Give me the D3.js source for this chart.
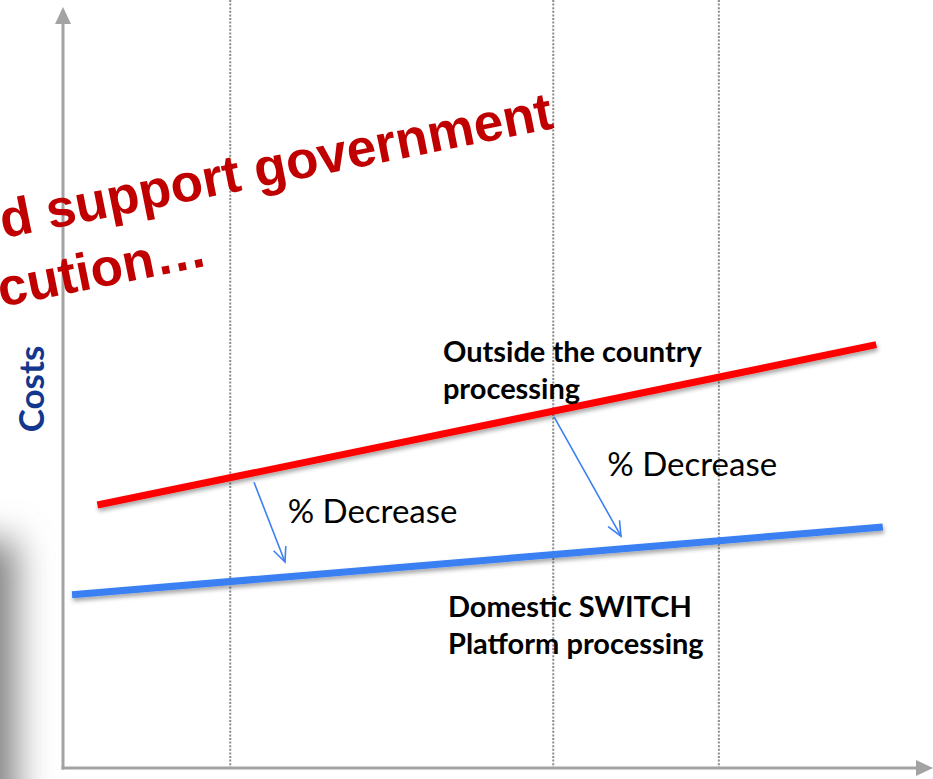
<!DOCTYPE html>
<html>
<head>
<meta charset="utf-8">
<script src="https://cdn.jsdelivr.net/npm/d3@7"></script>
<style>
  html, body { margin: 0; padding: 0; background: #fff; overflow: hidden; }
  svg { display: block; }
</style>
</head>
<body>
<div id="chart"></div>
<script>
// ---- data ----
// x in "period" units, y in cost units (0-100)
const gridX = [1.02, 2.99, 4.0];

const outsideLine = [ {x: 0.21, y: 34.6}, {x: 4.96, y: 55.7} ];   // red
const domesticLine = [ {x: 0.055, y: 22.8}, {x: 5.0, y: 31.7} ];  // blue

const decreaseArrows = [
  {x1: 1.165, y1: 37.6, x2: 1.354, y2: 27.1},
  {x1: 2.995, y1: 46.2, x2: 3.403, y2: 30.5}
];

const decreaseLabels = [
  {x: 1.37, y: 32.3, text: "% Decrease"},
  {x: 3.32, y: 38.4, text: "% Decrease"}
];

const seriesLabels = [
  {x: 2.317, y: 53.4, lines: ["Outside the country", "processing"]},
  {x: 2.348, y: 19.9, lines: ["Domestic SWITCH", "Platform processing"]}
];

const titleLines = ["d support government", "cution\u2026"];
const yAxisTitle = "Costs";

// ---- layout ----
const W = 933, H = 779;
const x = d3.scaleLinear().domain([0, 5.3]).range([63, 932]);
const y = d3.scaleLinear().domain([0, 100]).range([768, 8]);

const svg = d3.select("#chart").append("svg")
  .attr("width", W).attr("height", H);

const defs = svg.append("defs");

// blurred grey shade at the lower left edge
const blur = defs.append("filter").attr("id", "edgeBlur")
  .attr("x", "-100%").attr("y", "-50%").attr("width", "300%").attr("height", "200%");
blur.append("feGaussianBlur").attr("stdDeviation", 18);

// soft drop shadow under the thick lines
const shadow = defs.append("filter").attr("id", "lineShadow")
  .attr("x", "-5%").attr("y", "-50%").attr("width", "110%").attr("height", "200%");
shadow.append("feDropShadow")
  .attr("dx", 1).attr("dy", 3).attr("stdDeviation", 2)
  .attr("flood-color", "#000").attr("flood-opacity", 0.35);

svg.append("rect")
  .attr("x", -90).attr("y", 540).attr("width", 106).attr("height", 420)
  .attr("fill", "#808080")
  .attr("filter", "url(#edgeBlur)");

// dotted vertical guides
svg.append("g").selectAll("line")
  .data(gridX).enter().append("line")
  .attr("x1", d => x(d)).attr("x2", d => x(d))
  .attr("y1", 0).attr("y2", y(0))
  .attr("stroke", "#8c8c8c")
  .attr("stroke-width", 2)
  .attr("stroke-dasharray", "2,1.6");

// axes with arrow heads
const axisColor = "#a3a3a3";
const axes = svg.append("g");
axes.append("line")
  .attr("x1", x(0)).attr("y1", y(0) + 1.5)
  .attr("x2", x(0)).attr("y2", 22)
  .attr("stroke", axisColor).attr("stroke-width", 3);
axes.append("path")
  .attr("d", `M${x(0)},7 L${x(0) - 8},24 L${x(0) + 8},24 Z`)
  .attr("fill", axisColor);
axes.append("line")
  .attr("x1", x(0) - 1.5).attr("y1", y(0))
  .attr("x2", 918).attr("y2", y(0))
  .attr("stroke", axisColor).attr("stroke-width", 3);
axes.append("path")
  .attr("d", `M933,${y(0)} L916,${y(0) - 8} L916,${y(0) + 8} Z`)
  .attr("fill", axisColor);

// y axis title
svg.append("text")
  .attr("transform", `translate(44,389) rotate(-90)`)
  .attr("text-anchor", "middle")
  .style("font-family", "Lato, 'Open Sans', sans-serif")
  .style("font-weight", "bold")
  .style("font-size", "35px")
  .style("fill", "#14378e")
  .text(yAxisTitle);

// red rotated headline (cut off at the left edge, as in the slide)
const title = svg.append("g")
  .attr("transform", "translate(555,128) rotate(-11.3)")
  .style("font-family", "'Liberation Sans', Arial, sans-serif")
  .style("font-weight", "bold")
  .style("font-size", "53px")
  .style("fill", "#c00000");
title.append("text").attr("text-anchor", "end")
  .attr("x", 0).attr("y", 0).text(titleLines[0]);
title.append("text").attr("text-anchor", "end")
  .attr("x", -366).attr("y", 67).text(titleLines[1]);

// cost lines
const line = d3.line().x(d => x(d.x)).y(d => y(d.y));
svg.append("path")
  .datum(outsideLine)
  .attr("d", line)
  .attr("fill", "none")
  .attr("stroke", "#ff0000")
  .attr("stroke-width", 7)
  .attr("filter", "url(#lineShadow)");
svg.append("path")
  .datum(domesticLine)
  .attr("d", line)
  .attr("fill", "none")
  .attr("stroke", "#3b80f2")
  .attr("stroke-width", 7)
  .attr("filter", "url(#lineShadow)");

// % decrease arrows (open V heads)
const arrowColor = "#3b80f2";
const arrows = svg.append("g").selectAll("g")
  .data(decreaseArrows).enter().append("g");
arrows.append("line")
  .attr("x1", d => x(d.x1)).attr("y1", d => y(d.y1))
  .attr("x2", d => x(d.x2)).attr("y2", d => y(d.y2))
  .attr("stroke", arrowColor).attr("stroke-width", 1.6);
arrows.append("path")
  .attr("d", d => {
    const x1 = x(d.x1), y1 = y(d.y1), x2 = x(d.x2), y2 = y(d.y2);
    const a = Math.atan2(y2 - y1, x2 - x1);
    const len = 16, spread = 0.42;
    const p1 = [x2 - len * Math.cos(a - spread), y2 - len * Math.sin(a - spread)];
    const p2 = [x2 - len * Math.cos(a + spread), y2 - len * Math.sin(a + spread)];
    return `M${p1[0]},${p1[1]} L${x2},${y2} L${p2[0]},${p2[1]}`;
  })
  .attr("fill", "none")
  .attr("stroke", arrowColor).attr("stroke-width", 1.6);

svg.append("g").selectAll("text")
  .data(decreaseLabels).enter().append("text")
  .attr("x", d => x(d.x)).attr("y", d => y(d.y))
  .style("font-family", "Lato, sans-serif")
  .style("font-size", "33px")
  .style("fill", "#000")
  .text(d => d.text);

// series labels
const labels = svg.append("g").selectAll("text")
  .data(seriesLabels).enter().append("text")
  .attr("x", d => x(d.x)).attr("y", d => y(d.y))
  .style("font-family", "Lato, sans-serif")
  .style("font-weight", "bold")
  .style("font-size", "29px")
  .style("fill", "#000");
labels.selectAll("tspan")
  .data(d => d.lines.map(t => ({t, x: x(d.x)}))).enter().append("tspan")
  .attr("x", d => d.x)
  .attr("dy", (d, i) => i === 0 ? 0 : 37)
  .text(d => d.t);
</script>
</body>
</html>
